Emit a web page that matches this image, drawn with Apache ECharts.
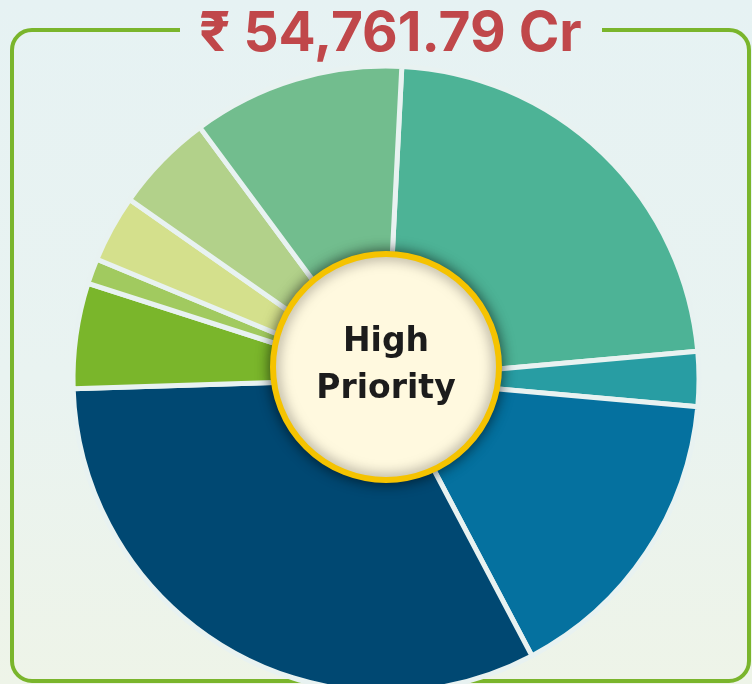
<!DOCTYPE html>
<html>
<head>
    <meta charset="utf-8"/>
    <title>High Priority</title>
    <script src="https://cdn.jsdelivr.net/npm/echarts@6/dist/echarts.min.js"></script>
    <style>
        html, body { margin: 0; padding: 0; }
        body { background: linear-gradient(180deg, #e6f2f3 0%, #e9f3f1 55%, #eef4e8 100%); }
    </style>
</head>
<body>
<div id="main" style="width: 752px;height:684px;"></div>

<script type="text/javascript">
    // values (Cr), clockwise from the top
    var categories = ['Segment 1', 'Segment 2', 'Segment 3', 'Segment 4', 'Segment 5',
                      'Segment 6', 'Segment 7', 'Segment 8', 'Segment 9'];
    var values = [12474, 1552, 8686, 17645, 2981, 715, 1901, 2814, 5993];
    var colors = ['#4db396', '#289da3', '#05719f', '#004872', '#7ab62b',
                  '#a1ca5f', '#d4e08c', '#b2d18a', '#72bd8e'];
    var totalText = '₹ 54,761.79 Cr';
    var centerText = 'High\nPriority';

    var myChart = echarts.init(document.getElementById('main'));

    var pieData = [];
    for (var i = 0; i < values.length; i++) {
        pieData.push({ name: categories[i], value: values[i], itemStyle: { color: colors[i] } });
    }

    // green frame with a gap for the title
    var frameStyle = { fill: null, stroke: '#7ab52c', lineWidth: 4 };
    var PI = Math.PI;
    var frame = [
        { type: 'polyline', shape: { points: [[180, 30], [32, 30]] } },
        { type: 'arc', shape: { cx: 32, cy: 50, r: 20, startAngle: PI, endAngle: 1.5 * PI } },
        { type: 'polyline', shape: { points: [[12, 50], [12, 661]] } },
        { type: 'arc', shape: { cx: 32, cy: 661, r: 20, startAngle: 0.5 * PI, endAngle: PI } },
        { type: 'polyline', shape: { points: [[32, 681], [729, 681]] } },
        { type: 'arc', shape: { cx: 729, cy: 661, r: 20, startAngle: 0, endAngle: 0.5 * PI } },
        { type: 'polyline', shape: { points: [[749, 661], [749, 50]] } },
        { type: 'arc', shape: { cx: 729, cy: 50, r: 20, startAngle: 1.5 * PI, endAngle: 2 * PI } },
        { type: 'polyline', shape: { points: [[729, 30], [602, 30]] } }
    ];
    frame.forEach(function (g) { g.z = 1; g.style = frameStyle; g.silent = true; });

    var option = {
        backgroundColor: 'transparent',
        title: {
            text: totalText,
            left: 194,
            top: 2,
            textStyle: {
                color: '#c0474a',
                fontSize: 55,
                fontWeight: 'bold',
                fontFamily: 'Inter'
            }
        },
        graphic: frame.concat([
            {
                type: 'circle',
                z: 10,
                shape: { cx: 386, cy: 367, r: 113 },
                style: {
                    fill: '#fff9df',
                    stroke: '#f5c300',
                    lineWidth: 6,
                    shadowBlur: 14,
                    shadowColor: 'rgba(0,0,0,0.55)'
                }
            },
            {
                type: 'text',
                z: 11,
                x: 386,
                y: 366,
                style: {
                    text: centerText,
                    align: 'center',
                    verticalAlign: 'middle',
                    fill: '#1c1c1c',
                    font: 'bold 33px "DejaVu Sans"',
                    lineHeight: 47
                }
            }
        ]),
        series: [
            {
                type: 'pie',
                center: [386, 379],
                radius: [0, 313],
                startAngle: 87.1,
                clockwise: true,
                label: { show: false },
                labelLine: { show: false },
                emphasis: { disabled: true },
                itemStyle: { borderColor: '#e8f2f1', borderWidth: 5 },
                data: pieData
            }
        ]
    };

    myChart.setOption(option);
</script>
</body>
</html>
